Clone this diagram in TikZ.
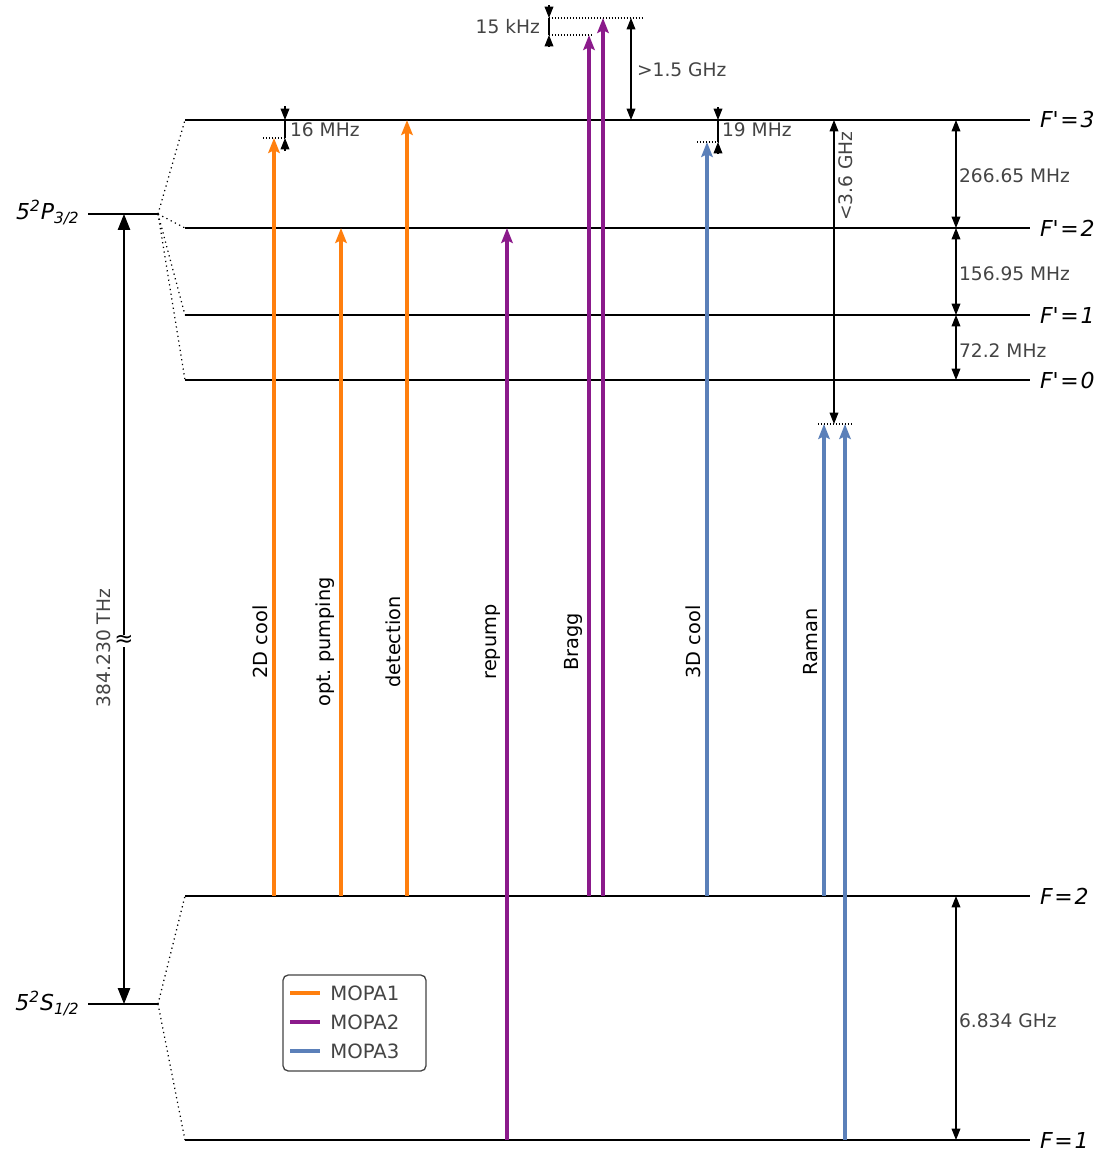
\documentclass[tikz,border=0pt]{standalone}
\usepackage{fontspec}
\setmainfont{DejaVu Sans}
\usepackage{xcolor}
\usetikzlibrary{arrows.meta,positioning,calc}

\definecolor{mopaorange}{HTML}{FF7F0E}
\definecolor{mopapurple}{HTML}{8B1A8B}
\definecolor{mopablue}{HTML}{5B80B9}
\definecolor{labelgray}{HTML}{444444}

\begin{document}
\frenchspacing
\begin{tikzpicture}[x=0.02cm, y=-0.02cm, every node/.style={font=\fontsize{11}{13}\selectfont}]
\tikzstyle{hfsline} = [line width=1pt, black]
\tikzstyle{fanline} = [dotted, line width=0.7pt]
\tikzstyle{beam} = [line width=2.1pt, -{Stealth[length=8.5pt, width=6.5pt, inset=1.5pt]}]
\tikzstyle{dimarrow} = [line width=0.6pt, {Stealth[length=6.5pt, width=5pt, inset=0pt]}-{Stealth[length=6.5pt, width=5pt, inset=0pt]}]
\tikzstyle{dimstub} = [line width=0.6pt, -{Stealth[length=6.5pt, width=5pt, inset=0pt]}]
\tikzstyle{dimguide} = [densely dotted, line width=0.7pt]
\tikzstyle{statelabel} = [font=\fontsize{12.5}{14}\selectfont\itshape, inner sep=0pt]
\tikzstyle{dimlabel} = [text=labelgray, font=\fontsize{10.6}{12}\selectfont, anchor=west, inner sep=1pt]
\tikzstyle{beamlabel} = [rotate=90, anchor=south, inner sep=1pt]
\tikzstyle{legendtext} = [text=labelgray, font=\fontsize{11.2}{13}\selectfont, anchor=west, inner sep=0pt]

\useasboundingbox (0,0) rectangle (1109,1153);

% hyperfine levels
\coordinate (e3l) at (185,120);  \coordinate (e3r) at (1030,120);
\coordinate (e2l) at (185,228);  \coordinate (e2r) at (1030,228);
\coordinate (e1l) at (185,315);  \coordinate (e1r) at (1030,315);
\coordinate (e0l) at (185,380);  \coordinate (e0r) at (1030,380);
\coordinate (g2l) at (185,896);  \coordinate (g2r) at (1030,896);
\coordinate (g1l) at (185,1140); \coordinate (g1r) at (1030,1140);
% fine structure levels
\coordinate (pl) at (88,214);  \coordinate (pr) at (158,214);
\coordinate (sl) at (88,1004); \coordinate (sr) at (158,1004);

\draw[hfsline] (e3l) -- (e3r);
\draw[hfsline] (e2l) -- (e2r);
\draw[hfsline] (e1l) -- (e1r);
\draw[hfsline] (e0l) -- (e0r);
\draw[hfsline] (g2l) -- (g2r);
\draw[hfsline] (g1l) -- (g1r);
\draw[hfsline] (pl) -- (pr);
\draw[hfsline] (sl) -- (sr);

\draw[fanline] (pr) -- (e3l);
\draw[fanline] (pr) -- (e2l);
\draw[fanline] (pr) -- (e1l);
\draw[fanline] (pr) -- (e0l);
\draw[fanline] (sr) -- (g2l);
\draw[fanline] (sr) -- (g1l);

\node[statelabel, right=5.5pt of e3r] (e3lab) {F\textquotesingle\kern1pt=\kern1pt3};
\node[statelabel, right=5.5pt of e2r] (e2lab) {F\textquotesingle\kern1pt=\kern1pt2};
\node[statelabel, right=5.5pt of e1r] (e1lab) {F\textquotesingle\kern1pt=\kern1pt1};
\node[statelabel, right=5.5pt of e0r] (e0lab) {F\textquotesingle\kern1pt=\kern1pt0};
\node[statelabel, right=5.5pt of g2r] (g2lab) {F\kern1pt=\kern1pt2};
\node[statelabel, right=5.5pt of g1r] (g1lab) {F\kern1pt=\kern1pt1};
\node[statelabel, anchor=base east] (plab) at (80,219) {5\textsuperscript{2}P\textsubscript{3/2}};
\node[statelabel, anchor=base east] (slab) at (80,1010) {5\textsuperscript{2}S\textsubscript{1/2}};

% optical frequency
\draw[line width=0.6pt, {Stealth[length=9pt, width=7pt, inset=0pt]}-{Stealth[length=9pt, width=7pt, inset=0pt]}] (pl -| 124,0) -- (sl -| 124,0);
\node[fill=white, inner sep=0.3pt, font=\fontsize{13}{13}\selectfont] (approx) at (124,641) {≈};
\node[beamlabel, text=labelgray, font=\fontsize{10.6}{12}\selectfont] (thz) at (113,648) {384.230 THz};

% laser beams
\coordinate (cool2d) at (274,138);
\coordinate (optpump) at (341,228);
\coordinate (detect) at (407,120);
\coordinate (repump) at (507,228);
\coordinate (bragga) at (589,35);
\coordinate (braggb) at (603,18);
\coordinate (cool3d) at (707,142);
\coordinate (ramana) at (824,424);
\coordinate (ramanb) at (845,424);

\draw[beam, mopaorange] (cool2d |- g2l) -- (cool2d);
\draw[beam, mopaorange] (optpump |- g2l) -- (optpump);
\draw[beam, mopaorange] (detect |- g2l) -- (detect);
\draw[beam, mopapurple] (repump |- g1l) -- (repump);
\draw[beam, mopapurple] (bragga |- g2l) -- (bragga);
\draw[beam, mopapurple] (braggb |- g2l) -- (braggb);
\draw[beam, mopablue] (cool3d |- g2l) -- (cool3d);
\draw[beam, mopablue] (ramana |- g2l) -- (ramana);
\draw[beam, mopablue] (ramanb |- g1l) -- (ramanb);

\node[beamlabel] (lab2d) at (270,642) {2D cool};
\node[beamlabel] (labpump) at (337,642) {opt. pumping};
\node[beamlabel] (labdetect) at (403,642) {detection};
\node[beamlabel] (labrepump) at (503,642) {repump};
\node[beamlabel] (labbragg) at (585,642) {Bragg};
\node[beamlabel] (lab3d) at (703,642) {3D cool};
\node[beamlabel] (labraman) at (820,642) {Raman};

% detunings
\coordinate (m16a) at (285,120); \coordinate (m16b) at (285,138);
\draw[line width=0.6pt] (m16a) -- (m16b);
\draw[dimstub] (m16a) ++(0,-14) -- (m16a);
\draw[dimstub] (m16b) ++(0,13) -- (m16b);
\draw[dimguide] (263,138) -- (m16b);
\node[dimlabel] (l16) at (288,130) {16 MHz};

\coordinate (m15a) at (549,18); \coordinate (m15b) at (549,35);
\draw[line width=0.6pt] (m15a) -- (m15b);
\draw[dimstub] (m15a) ++(0,-13) -- (m15a);
\draw[dimstub] (m15b) ++(0,12) -- (m15b);
\draw[dimguide] (m15a) -- (643,18);
\draw[dimguide] (m15b) -- (592,35);
\node[dimlabel, anchor=east] (l15) at (542,27) {15 kHz};

\draw[dimarrow] (631,18) -- (e3l -| 631,0);
\node[dimlabel] (l15g) at (635,70) {>1.5 GHz};

\coordinate (m19a) at (718,120); \coordinate (m19b) at (718,142);
\draw[line width=0.6pt] (m19a) -- (m19b);
\draw[dimstub] (m19a) ++(0,-13) -- (m19a);
\draw[dimstub] (m19b) ++(0,12) -- (m19b);
\draw[dimguide] (697,142) -- (m19b);
\node[dimlabel] (l19) at (720,130) {19 MHz};

\draw[dimarrow] (e3l -| 834,0) -- (ramana -| 834,0);
\draw[dimguide] (818,424) -- (851,424);
\node[dimlabel, rotate=90, anchor=north] (l36) at (837,176) {<3.6 GHz};

% hyperfine splittings
\coordinate (rdim) at (956,0);
\draw[dimarrow] (e3r -| rdim) -- (e2r -| rdim);
\draw[dimarrow] (e2r -| rdim) -- (e1r -| rdim);
\draw[dimarrow] (e1r -| rdim) -- (e0r -| rdim);
\draw[dimarrow] (g2r -| rdim) -- (g1r -| rdim);
\node[dimlabel] (l266) at (957,176) {266.65 MHz};
\node[dimlabel] (l156) at (957,274) {156.95 MHz};
\node[dimlabel] (l72) at (957,351) {72.2 MHz};
\node[dimlabel] (l6834) at (957,1021) {6.834 GHz};

% legend
\draw[labelgray, line width=0.75pt, rounded corners=3pt, fill=white] (283,975) rectangle (426,1071);
\draw[mopaorange, line width=2.2pt] (290,993) -- (320,993);
\draw[mopapurple, line width=2.2pt] (290,1022) -- (320,1022);
\draw[mopablue, line width=2.2pt] (290,1051) -- (320,1051);
\node[legendtext] (leg1) at (330,993) {MOPA1};
\node[legendtext] (leg2) at (330,1022) {MOPA2};
\node[legendtext] (leg3) at (330,1051) {MOPA3};
\end{tikzpicture}
\end{document}
